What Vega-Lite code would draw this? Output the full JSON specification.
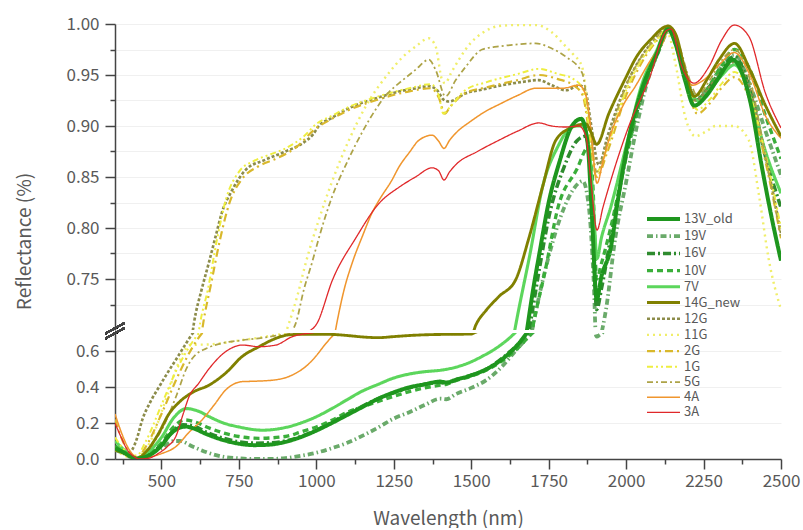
{
"$schema": "https://vega.github.io/schema/vega-lite/v6.json",
"padding": {"left": 15, "top": 15, "right": 5, "bottom": 0},
"background": "white",
"bounds": "flush",
"config": {"view": {"stroke": null}, "font": "Noto Sans CJK JP",
 "axis": {"labelFont": "Noto Sans CJK JP", "labelFontSize": 17, "labelColor": "#595959", "titleFont": "Noto Sans CJK JP", "titleFontSize": 19, "titleColor": "#595959", "titleFontWeight": "normal", "domainColor": "#444444", "tickColor": "#444444", "domainWidth": 1.5, "tickWidth": 1.5, "gridColor": "#f0f0f0", "gridWidth": 1, "labelOverlap": false}},
"data": {"values": [
{"s":"19V","w":350,"r":0.05},{"s":"19V","w":380,"r":0.03},{"s":"19V","w":400,"r":0.01},{"s":"19V","w":420,"r":0.0},{"s":"19V","w":450,"r":0.02},{"s":"19V","w":500,"r":0.06},{"s":"19V","w":540,"r":0.1},{"s":"19V","w":560,"r":0.1},{"s":"19V","w":600,"r":0.07},{"s":"19V","w":650,"r":0.035},{"s":"19V","w":700,"r":0.012},{"s":"19V","w":750,"r":0.004},{"s":"19V","w":800,"r":0.0},{"s":"19V","w":850,"r":0.0},{"s":"19V","w":900,"r":0.005},{"s":"19V","w":950,"r":0.018},{"s":"19V","w":1000,"r":0.035},{"s":"19V","w":1050,"r":0.06},{"s":"19V","w":1100,"r":0.09},{"s":"19V","w":1150,"r":0.13},{"s":"19V","w":1200,"r":0.175},{"s":"19V","w":1250,"r":0.225},{"s":"19V","w":1300,"r":0.26},{"s":"19V","w":1350,"r":0.3},{"s":"19V","w":1400,"r":0.335},{"s":"19V","w":1420,"r":0.332},{"s":"19V","w":1450,"r":0.36},{"s":"19V","w":1500,"r":0.395},{"s":"19V","w":1550,"r":0.44},{"s":"19V","w":1600,"r":0.515},{"s":"19V","w":1650,"r":0.615},{"s":"19V","w":1700,"r":0.705},{"s":"19V","w":1750,"r":0.772},{"s":"19V","w":1800,"r":0.82},{"s":"19V","w":1830,"r":0.838},{"s":"19V","w":1860,"r":0.846},{"s":"19V","w":1880,"r":0.82},{"s":"19V","w":1895,"r":0.75},{"s":"19V","w":1905,"r":0.68},{"s":"19V","w":1915,"r":0.69},{"s":"19V","w":1935,"r":0.72},{"s":"19V","w":1965,"r":0.79},{"s":"19V","w":2000,"r":0.845},{"s":"19V","w":2030,"r":0.893},{"s":"19V","w":2070,"r":0.945},{"s":"19V","w":2100,"r":0.97},{"s":"19V","w":2145,"r":0.995},{"s":"19V","w":2180,"r":0.965},{"s":"19V","w":2220,"r":0.93},{"s":"19V","w":2260,"r":0.935},{"s":"19V","w":2300,"r":0.955},{"s":"19V","w":2350,"r":0.97},{"s":"19V","w":2400,"r":0.94},{"s":"19V","w":2450,"r":0.895},{"s":"19V","w":2500,"r":0.852},
{"s":"16V","w":350,"r":0.07},{"s":"16V","w":380,"r":0.04},{"s":"16V","w":400,"r":0.015},{"s":"16V","w":420,"r":0.002},{"s":"16V","w":450,"r":0.015},{"s":"16V","w":500,"r":0.08},{"s":"16V","w":540,"r":0.16},{"s":"16V","w":570,"r":0.19},{"s":"16V","w":600,"r":0.185},{"s":"16V","w":650,"r":0.145},{"s":"16V","w":700,"r":0.115},{"s":"16V","w":750,"r":0.095},{"s":"16V","w":800,"r":0.088},{"s":"16V","w":850,"r":0.09},{"s":"16V","w":900,"r":0.1},{"s":"16V","w":950,"r":0.125},{"s":"16V","w":1000,"r":0.16},{"s":"16V","w":1100,"r":0.25},{"s":"16V","w":1200,"r":0.335},{"s":"16V","w":1300,"r":0.395},{"s":"16V","w":1400,"r":0.425},{"s":"16V","w":1420,"r":0.42},{"s":"16V","w":1450,"r":0.44},{"s":"16V","w":1500,"r":0.465},{"s":"16V","w":1550,"r":0.5},{"s":"16V","w":1600,"r":0.56},{"s":"16V","w":1650,"r":0.635},{"s":"16V","w":1690,"r":0.705},{"s":"16V","w":1720,"r":0.76},{"s":"16V","w":1750,"r":0.81},{"s":"16V","w":1800,"r":0.86},{"s":"16V","w":1840,"r":0.885},{"s":"16V","w":1870,"r":0.89},{"s":"16V","w":1890,"r":0.83},{"s":"16V","w":1905,"r":0.72},{"s":"16V","w":1920,"r":0.74},{"s":"16V","w":1950,"r":0.79},{"s":"16V","w":2000,"r":0.87},{"s":"16V","w":2050,"r":0.93},{"s":"16V","w":2100,"r":0.97},{"s":"16V","w":2138,"r":0.996},{"s":"16V","w":2170,"r":0.972},{"s":"16V","w":2200,"r":0.94},{"s":"16V","w":2225,"r":0.925},{"s":"16V","w":2260,"r":0.935},{"s":"16V","w":2300,"r":0.952},{"s":"16V","w":2350,"r":0.968},{"s":"16V","w":2400,"r":0.935},{"s":"16V","w":2450,"r":0.87},{"s":"16V","w":2500,"r":0.82},
{"s":"10V","w":350,"r":0.07},{"s":"10V","w":380,"r":0.04},{"s":"10V","w":400,"r":0.015},{"s":"10V","w":420,"r":0.002},{"s":"10V","w":450,"r":0.02},{"s":"10V","w":500,"r":0.09},{"s":"10V","w":540,"r":0.18},{"s":"10V","w":575,"r":0.217},{"s":"10V","w":610,"r":0.205},{"s":"10V","w":650,"r":0.175},{"s":"10V","w":700,"r":0.145},{"s":"10V","w":750,"r":0.125},{"s":"10V","w":815,"r":0.115},{"s":"10V","w":900,"r":0.125},{"s":"10V","w":950,"r":0.15},{"s":"10V","w":1000,"r":0.178},{"s":"10V","w":1050,"r":0.215},{"s":"10V","w":1100,"r":0.26},{"s":"10V","w":1150,"r":0.29},{"s":"10V","w":1200,"r":0.32},{"s":"10V","w":1250,"r":0.348},{"s":"10V","w":1300,"r":0.374},{"s":"10V","w":1350,"r":0.395},{"s":"10V","w":1400,"r":0.41},{"s":"10V","w":1420,"r":0.415},{"s":"10V","w":1450,"r":0.435},{"s":"10V","w":1500,"r":0.46},{"s":"10V","w":1550,"r":0.495},{"s":"10V","w":1600,"r":0.545},{"s":"10V","w":1650,"r":0.615},{"s":"10V","w":1700,"r":0.705},{"s":"10V","w":1740,"r":0.76},{"s":"10V","w":1780,"r":0.82},{"s":"10V","w":1840,"r":0.857},{"s":"10V","w":1880,"r":0.88},{"s":"10V","w":1893,"r":0.84},{"s":"10V","w":1905,"r":0.75},{"s":"10V","w":1920,"r":0.765},{"s":"10V","w":1950,"r":0.8},{"s":"10V","w":2000,"r":0.87},{"s":"10V","w":2050,"r":0.93},{"s":"10V","w":2100,"r":0.97},{"s":"10V","w":2135,"r":0.997},{"s":"10V","w":2170,"r":0.97},{"s":"10V","w":2200,"r":0.94},{"s":"10V","w":2230,"r":0.925},{"s":"10V","w":2270,"r":0.94},{"s":"10V","w":2310,"r":0.96},{"s":"10V","w":2350,"r":0.975},{"s":"10V","w":2400,"r":0.955},{"s":"10V","w":2450,"r":0.91},{"s":"10V","w":2500,"r":0.868},
{"s":"7V","w":350,"r":0.1},{"s":"7V","w":380,"r":0.05},{"s":"7V","w":400,"r":0.02},{"s":"7V","w":420,"r":0.003},{"s":"7V","w":450,"r":0.03},{"s":"7V","w":500,"r":0.12},{"s":"7V","w":540,"r":0.23},{"s":"7V","w":580,"r":0.28},{"s":"7V","w":620,"r":0.265},{"s":"7V","w":660,"r":0.23},{"s":"7V","w":700,"r":0.2},{"s":"7V","w":750,"r":0.178},{"s":"7V","w":825,"r":0.16},{"s":"7V","w":900,"r":0.175},{"s":"7V","w":950,"r":0.2},{"s":"7V","w":1000,"r":0.235},{"s":"7V","w":1050,"r":0.28},{"s":"7V","w":1100,"r":0.33},{"s":"7V","w":1140,"r":0.37},{"s":"7V","w":1200,"r":0.415},{"s":"7V","w":1250,"r":0.45},{"s":"7V","w":1300,"r":0.472},{"s":"7V","w":1350,"r":0.485},{"s":"7V","w":1405,"r":0.494},{"s":"7V","w":1450,"r":0.51},{"s":"7V","w":1500,"r":0.54},{"s":"7V","w":1535,"r":0.57},{"s":"7V","w":1580,"r":0.615},{"s":"7V","w":1622,"r":0.67},{"s":"7V","w":1650,"r":0.715},{"s":"7V","w":1690,"r":0.775},{"s":"7V","w":1730,"r":0.84},{"s":"7V","w":1780,"r":0.88},{"s":"7V","w":1830,"r":0.9},{"s":"7V","w":1860,"r":0.9},{"s":"7V","w":1880,"r":0.88},{"s":"7V","w":1895,"r":0.82},{"s":"7V","w":1906,"r":0.77},{"s":"7V","w":1920,"r":0.79},{"s":"7V","w":1950,"r":0.82},{"s":"7V","w":2000,"r":0.88},{"s":"7V","w":2050,"r":0.94},{"s":"7V","w":2100,"r":0.975},{"s":"7V","w":2135,"r":0.997},{"s":"7V","w":2170,"r":0.975},{"s":"7V","w":2200,"r":0.94},{"s":"7V","w":2230,"r":0.925},{"s":"7V","w":2270,"r":0.935},{"s":"7V","w":2310,"r":0.95},{"s":"7V","w":2350,"r":0.96},{"s":"7V","w":2400,"r":0.93},{"s":"7V","w":2450,"r":0.875},{"s":"7V","w":2500,"r":0.834},
{"s":"12G","w":350,"r":0.06},{"s":"12G","w":370,"r":0.04},{"s":"12G","w":390,"r":0.03},{"s":"12G","w":405,"r":0.05},{"s":"12G","w":420,"r":0.11},{"s":"12G","w":438,"r":0.217},{"s":"12G","w":465,"r":0.32},{"s":"12G","w":492,"r":0.4},{"s":"12G","w":520,"r":0.48},{"s":"12G","w":546,"r":0.55},{"s":"12G","w":575,"r":0.63},{"s":"12G","w":605,"r":0.707},{"s":"12G","w":630,"r":0.74},{"s":"12G","w":653,"r":0.766},{"s":"12G","w":675,"r":0.792},{"s":"12G","w":695,"r":0.815},{"s":"12G","w":728,"r":0.837},{"s":"12G","w":772,"r":0.857},{"s":"12G","w":836,"r":0.867},{"s":"12G","w":900,"r":0.875},{"s":"12G","w":960,"r":0.884},{"s":"12G","w":990,"r":0.892},{"s":"12G","w":1008,"r":0.9},{"s":"12G","w":1050,"r":0.908},{"s":"12G","w":1095,"r":0.916},{"s":"12G","w":1150,"r":0.923},{"s":"12G","w":1212,"r":0.929},{"s":"12G","w":1270,"r":0.934},{"s":"12G","w":1321,"r":0.937},{"s":"12G","w":1363,"r":0.939},{"s":"12G","w":1390,"r":0.935},{"s":"12G","w":1410,"r":0.926},{"s":"12G","w":1428,"r":0.924},{"s":"12G","w":1482,"r":0.932},{"s":"12G","w":1540,"r":0.936},{"s":"12G","w":1600,"r":0.94},{"s":"12G","w":1660,"r":0.943},{"s":"12G","w":1718,"r":0.945},{"s":"12G","w":1760,"r":0.94},{"s":"12G","w":1805,"r":0.935},{"s":"12G","w":1850,"r":0.94},{"s":"12G","w":1870,"r":0.933},{"s":"12G","w":1885,"r":0.905},{"s":"12G","w":1912,"r":0.862},{"s":"12G","w":1940,"r":0.89},{"s":"12G","w":2000,"r":0.94},{"s":"12G","w":2050,"r":0.968},{"s":"12G","w":2100,"r":0.988},{"s":"12G","w":2135,"r":0.998},{"s":"12G","w":2160,"r":0.985},{"s":"12G","w":2190,"r":0.95},{"s":"12G","w":2225,"r":0.925},{"s":"12G","w":2260,"r":0.935},{"s":"12G","w":2300,"r":0.95},{"s":"12G","w":2350,"r":0.963},{"s":"12G","w":2400,"r":0.935},{"s":"12G","w":2450,"r":0.87},{"s":"12G","w":2500,"r":0.795},
{"s":"11G","w":350,"r":0.05},{"s":"11G","w":380,"r":0.02},{"s":"11G","w":410,"r":0.0},{"s":"11G","w":438,"r":0.03},{"s":"11G","w":465,"r":0.1},{"s":"11G","w":492,"r":0.22},{"s":"11G","w":520,"r":0.36},{"s":"11G","w":546,"r":0.494},{"s":"11G","w":570,"r":0.59},{"s":"11G","w":590,"r":0.633},{"s":"11G","w":620,"r":0.635},{"s":"11G","w":653,"r":0.636},{"s":"11G","w":700,"r":0.645},{"s":"11G","w":761,"r":0.661},{"s":"11G","w":820,"r":0.675},{"s":"11G","w":869,"r":0.689},{"s":"11G","w":900,"r":0.697},{"s":"11G","w":912,"r":0.707},{"s":"11G","w":940,"r":0.735},{"s":"11G","w":966,"r":0.766},{"s":"11G","w":1008,"r":0.808},{"s":"11G","w":1050,"r":0.845},{"s":"11G","w":1105,"r":0.886},{"s":"11G","w":1159,"r":0.919},{"s":"11G","w":1234,"r":0.952},{"s":"11G","w":1280,"r":0.968},{"s":"11G","w":1321,"r":0.978},{"s":"11G","w":1363,"r":0.986},{"s":"11G","w":1385,"r":0.978},{"s":"11G","w":1406,"r":0.945},{"s":"11G","w":1416,"r":0.942},{"s":"11G","w":1435,"r":0.952},{"s":"11G","w":1460,"r":0.965},{"s":"11G","w":1500,"r":0.982},{"s":"11G","w":1535,"r":0.991},{"s":"11G","w":1589,"r":0.998},{"s":"11G","w":1650,"r":0.999},{"s":"11G","w":1708,"r":0.999},{"s":"11G","w":1760,"r":0.992},{"s":"11G","w":1805,"r":0.978},{"s":"11G","w":1830,"r":0.97},{"s":"11G","w":1858,"r":0.958},{"s":"11G","w":1875,"r":0.92},{"s":"11G","w":1890,"r":0.875},{"s":"11G","w":1905,"r":0.85},{"s":"11G","w":1925,"r":0.865},{"s":"11G","w":1960,"r":0.9},{"s":"11G","w":2000,"r":0.935},{"s":"11G","w":2050,"r":0.965},{"s":"11G","w":2100,"r":0.985},{"s":"11G","w":2135,"r":0.99},{"s":"11G","w":2160,"r":0.96},{"s":"11G","w":2190,"r":0.91},{"s":"11G","w":2224,"r":0.89},{"s":"11G","w":2260,"r":0.895},{"s":"11G","w":2289,"r":0.9},{"s":"11G","w":2349,"r":0.9},{"s":"11G","w":2396,"r":0.886},{"s":"11G","w":2430,"r":0.83},{"s":"11G","w":2460,"r":0.77},{"s":"11G","w":2500,"r":0.72},
{"s":"2G","w":350,"r":0.22},{"s":"2G","w":375,"r":0.1},{"s":"2G","w":400,"r":0.03},{"s":"2G","w":420,"r":0.005},{"s":"2G","w":450,"r":0.07},{"s":"2G","w":500,"r":0.25},{"s":"2G","w":550,"r":0.45},{"s":"2G","w":600,"r":0.62},{"s":"2G","w":635,"r":0.707},{"s":"2G","w":660,"r":0.745},{"s":"2G","w":690,"r":0.79},{"s":"2G","w":720,"r":0.825},{"s":"2G","w":760,"r":0.848},{"s":"2G","w":810,"r":0.86},{"s":"2G","w":870,"r":0.868},{"s":"2G","w":930,"r":0.878},{"s":"2G","w":1000,"r":0.898},{"s":"2G","w":1050,"r":0.907},{"s":"2G","w":1100,"r":0.915},{"s":"2G","w":1200,"r":0.926},{"s":"2G","w":1300,"r":0.934},{"s":"2G","w":1370,"r":0.937},{"s":"2G","w":1395,"r":0.928},{"s":"2G","w":1415,"r":0.912},{"s":"2G","w":1430,"r":0.918},{"s":"2G","w":1480,"r":0.932},{"s":"2G","w":1550,"r":0.938},{"s":"2G","w":1650,"r":0.945},{"s":"2G","w":1718,"r":0.95},{"s":"2G","w":1780,"r":0.946},{"s":"2G","w":1830,"r":0.94},{"s":"2G","w":1860,"r":0.93},{"s":"2G","w":1880,"r":0.895},{"s":"2G","w":1905,"r":0.85},{"s":"2G","w":1940,"r":0.875},{"s":"2G","w":2000,"r":0.93},{"s":"2G","w":2050,"r":0.962},{"s":"2G","w":2100,"r":0.984},{"s":"2G","w":2140,"r":0.996},{"s":"2G","w":2170,"r":0.972},{"s":"2G","w":2200,"r":0.935},{"s":"2G","w":2230,"r":0.912},{"s":"2G","w":2270,"r":0.922},{"s":"2G","w":2310,"r":0.938},{"s":"2G","w":2350,"r":0.948},{"s":"2G","w":2400,"r":0.925},{"s":"2G","w":2450,"r":0.865},{"s":"2G","w":2500,"r":0.79},
{"s":"1G","w":350,"r":0.12},{"s":"1G","w":375,"r":0.06},{"s":"1G","w":400,"r":0.02},{"s":"1G","w":420,"r":0.02},{"s":"1G","w":450,"r":0.1},{"s":"1G","w":500,"r":0.3},{"s":"1G","w":550,"r":0.5},{"s":"1G","w":600,"r":0.65},{"s":"1G","w":625,"r":0.707},{"s":"1G","w":650,"r":0.74},{"s":"1G","w":680,"r":0.79},{"s":"1G","w":710,"r":0.83},{"s":"1G","w":750,"r":0.855},{"s":"1G","w":800,"r":0.866},{"s":"1G","w":850,"r":0.872},{"s":"1G","w":900,"r":0.878},{"s":"1G","w":960,"r":0.89},{"s":"1G","w":1000,"r":0.902},{"s":"1G","w":1050,"r":0.91},{"s":"1G","w":1100,"r":0.918},{"s":"1G","w":1200,"r":0.929},{"s":"1G","w":1300,"r":0.937},{"s":"1G","w":1370,"r":0.941},{"s":"1G","w":1395,"r":0.93},{"s":"1G","w":1410,"r":0.912},{"s":"1G","w":1430,"r":0.918},{"s":"1G","w":1480,"r":0.935},{"s":"1G","w":1550,"r":0.943},{"s":"1G","w":1650,"r":0.951},{"s":"1G","w":1718,"r":0.956},{"s":"1G","w":1780,"r":0.951},{"s":"1G","w":1830,"r":0.946},{"s":"1G","w":1860,"r":0.936},{"s":"1G","w":1880,"r":0.9},{"s":"1G","w":1905,"r":0.855},{"s":"1G","w":1940,"r":0.88},{"s":"1G","w":2000,"r":0.935},{"s":"1G","w":2050,"r":0.965},{"s":"1G","w":2100,"r":0.985},{"s":"1G","w":2140,"r":0.997},{"s":"1G","w":2170,"r":0.975},{"s":"1G","w":2200,"r":0.94},{"s":"1G","w":2230,"r":0.916},{"s":"1G","w":2270,"r":0.926},{"s":"1G","w":2310,"r":0.942},{"s":"1G","w":2350,"r":0.953},{"s":"1G","w":2400,"r":0.93},{"s":"1G","w":2450,"r":0.872},{"s":"1G","w":2500,"r":0.8},
{"s":"5G","w":350,"r":0.06},{"s":"5G","w":380,"r":0.03},{"s":"5G","w":400,"r":0.01},{"s":"5G","w":420,"r":0.0},{"s":"5G","w":450,"r":0.04},{"s":"5G","w":500,"r":0.16},{"s":"5G","w":550,"r":0.36},{"s":"5G","w":580,"r":0.5},{"s":"5G","w":600,"r":0.56},{"s":"5G","w":653,"r":0.62},{"s":"5G","w":700,"r":0.645},{"s":"5G","w":761,"r":0.66},{"s":"5G","w":820,"r":0.672},{"s":"5G","w":869,"r":0.685},{"s":"5G","w":920,"r":0.698},{"s":"5G","w":934,"r":0.707},{"s":"5G","w":960,"r":0.74},{"s":"5G","w":986,"r":0.766},{"s":"5G","w":1008,"r":0.79},{"s":"5G","w":1050,"r":0.83},{"s":"5G","w":1100,"r":0.865},{"s":"5G","w":1150,"r":0.895},{"s":"5G","w":1191,"r":0.916},{"s":"5G","w":1230,"r":0.932},{"s":"5G","w":1267,"r":0.942},{"s":"5G","w":1320,"r":0.955},{"s":"5G","w":1363,"r":0.965},{"s":"5G","w":1385,"r":0.955},{"s":"5G","w":1417,"r":0.929},{"s":"5G","w":1450,"r":0.945},{"s":"5G","w":1482,"r":0.958},{"s":"5G","w":1535,"r":0.975},{"s":"5G","w":1589,"r":0.978},{"s":"5G","w":1650,"r":0.98},{"s":"5G","w":1708,"r":0.981},{"s":"5G","w":1760,"r":0.976},{"s":"5G","w":1805,"r":0.968},{"s":"5G","w":1858,"r":0.952},{"s":"5G","w":1880,"r":0.91},{"s":"5G","w":1905,"r":0.855},{"s":"5G","w":1940,"r":0.885},{"s":"5G","w":2000,"r":0.94},{"s":"5G","w":2050,"r":0.968},{"s":"5G","w":2100,"r":0.988},{"s":"5G","w":2135,"r":0.998},{"s":"5G","w":2170,"r":0.98},{"s":"5G","w":2200,"r":0.95},{"s":"5G","w":2230,"r":0.93},{"s":"5G","w":2270,"r":0.945},{"s":"5G","w":2310,"r":0.965},{"s":"5G","w":2350,"r":0.975},{"s":"5G","w":2400,"r":0.945},{"s":"5G","w":2450,"r":0.87},{"s":"5G","w":2500,"r":0.79},
{"s":"4A","w":350,"r":0.25},{"s":"4A","w":370,"r":0.15},{"s":"4A","w":390,"r":0.07},{"s":"4A","w":410,"r":0.02},{"s":"4A","w":430,"r":0.003},{"s":"4A","w":460,"r":0.01},{"s":"4A","w":500,"r":0.03},{"s":"4A","w":546,"r":0.068},{"s":"4A","w":590,"r":0.15},{"s":"4A","w":631,"r":0.217},{"s":"4A","w":670,"r":0.3},{"s":"4A","w":707,"r":0.383},{"s":"4A","w":761,"r":0.43},{"s":"4A","w":800,"r":0.432},{"s":"4A","w":869,"r":0.44},{"s":"4A","w":933,"r":0.476},{"s":"4A","w":970,"r":0.52},{"s":"4A","w":998,"r":0.57},{"s":"4A","w":1030,"r":0.64},{"s":"4A","w":1062,"r":0.7},{"s":"4A","w":1090,"r":0.74},{"s":"4A","w":1116,"r":0.766},{"s":"4A","w":1150,"r":0.793},{"s":"4A","w":1180,"r":0.815},{"s":"4A","w":1202,"r":0.827},{"s":"4A","w":1244,"r":0.847},{"s":"4A","w":1267,"r":0.86},{"s":"4A","w":1300,"r":0.874},{"s":"4A","w":1331,"r":0.886},{"s":"4A","w":1374,"r":0.891},{"s":"4A","w":1395,"r":0.885},{"s":"4A","w":1412,"r":0.878},{"s":"4A","w":1430,"r":0.886},{"s":"4A","w":1450,"r":0.893},{"s":"4A","w":1500,"r":0.905},{"s":"4A","w":1550,"r":0.915},{"s":"4A","w":1589,"r":0.921},{"s":"4A","w":1650,"r":0.93},{"s":"4A","w":1708,"r":0.937},{"s":"4A","w":1794,"r":0.937},{"s":"4A","w":1848,"r":0.94},{"s":"4A","w":1870,"r":0.93},{"s":"4A","w":1885,"r":0.9},{"s":"4A","w":1906,"r":0.844},{"s":"4A","w":1925,"r":0.865},{"s":"4A","w":1944,"r":0.886},{"s":"4A","w":1990,"r":0.92},{"s":"4A","w":2030,"r":0.939},{"s":"4A","w":2080,"r":0.965},{"s":"4A","w":2116,"r":0.98},{"s":"4A","w":2140,"r":0.995},{"s":"4A","w":2170,"r":0.975},{"s":"4A","w":2195,"r":0.95},{"s":"4A","w":2213,"r":0.94},{"s":"4A","w":2250,"r":0.945},{"s":"4A","w":2300,"r":0.96},{"s":"4A","w":2349,"r":0.972},{"s":"4A","w":2400,"r":0.95},{"s":"4A","w":2450,"r":0.91},{"s":"4A","w":2500,"r":0.888},
{"s":"14G_new","w":350,"r":0.05},{"s":"14G_new","w":380,"r":0.03},{"s":"14G_new","w":400,"r":0.012},{"s":"14G_new","w":420,"r":0.003},{"s":"14G_new","w":450,"r":0.04},{"s":"14G_new","w":490,"r":0.14},{"s":"14G_new","w":524,"r":0.25},{"s":"14G_new","w":560,"r":0.32},{"s":"14G_new","w":600,"r":0.37},{"s":"14G_new","w":653,"r":0.41},{"s":"14G_new","w":707,"r":0.477},{"s":"14G_new","w":761,"r":0.57},{"s":"14G_new","w":815,"r":0.624},{"s":"14G_new","w":869,"r":0.67},{"s":"14G_new","w":912,"r":0.69},{"s":"14G_new","w":960,"r":0.693},{"s":"14G_new","w":1000,"r":0.693},{"s":"14G_new","w":1050,"r":0.692},{"s":"14G_new","w":1100,"r":0.686},{"s":"14G_new","w":1150,"r":0.678},{"s":"14G_new","w":1200,"r":0.674},{"s":"14G_new","w":1250,"r":0.68},{"s":"14G_new","w":1300,"r":0.686},{"s":"14G_new","w":1350,"r":0.69},{"s":"14G_new","w":1400,"r":0.692},{"s":"14G_new","w":1450,"r":0.693},{"s":"14G_new","w":1500,"r":0.694},{"s":"14G_new","w":1515,"r":0.705},{"s":"14G_new","w":1550,"r":0.72},{"s":"14G_new","w":1590,"r":0.733},{"s":"14G_new","w":1643,"r":0.749},{"s":"14G_new","w":1686,"r":0.79},{"s":"14G_new","w":1730,"r":0.84},{"s":"14G_new","w":1773,"r":0.886},{"s":"14G_new","w":1820,"r":0.898},{"s":"14G_new","w":1870,"r":0.902},{"s":"14G_new","w":1885,"r":0.895},{"s":"14G_new","w":1905,"r":0.882},{"s":"14G_new","w":1944,"r":0.912},{"s":"14G_new","w":2000,"r":0.948},{"s":"14G_new","w":2030,"r":0.966},{"s":"14G_new","w":2080,"r":0.985},{"s":"14G_new","w":2135,"r":0.998},{"s":"14G_new","w":2160,"r":0.99},{"s":"14G_new","w":2190,"r":0.955},{"s":"14G_new","w":2220,"r":0.929},{"s":"14G_new","w":2260,"r":0.945},{"s":"14G_new","w":2300,"r":0.965},{"s":"14G_new","w":2350,"r":0.981},{"s":"14G_new","w":2400,"r":0.955},{"s":"14G_new","w":2450,"r":0.92},{"s":"14G_new","w":2500,"r":0.89},
{"s":"13V_old","w":350,"r":0.06},{"s":"13V_old","w":380,"r":0.035},{"s":"13V_old","w":400,"r":0.015},{"s":"13V_old","w":420,"r":0.003},{"s":"13V_old","w":440,"r":0.008},{"s":"13V_old","w":470,"r":0.03},{"s":"13V_old","w":500,"r":0.075},{"s":"13V_old","w":530,"r":0.14},{"s":"13V_old","w":560,"r":0.175},{"s":"13V_old","w":580,"r":0.18},{"s":"13V_old","w":600,"r":0.172},{"s":"13V_old","w":650,"r":0.135},{"s":"13V_old","w":700,"r":0.105},{"s":"13V_old","w":750,"r":0.085},{"s":"13V_old","w":800,"r":0.077},{"s":"13V_old","w":850,"r":0.08},{"s":"13V_old","w":900,"r":0.095},{"s":"13V_old","w":950,"r":0.122},{"s":"13V_old","w":1000,"r":0.158},{"s":"13V_old","w":1050,"r":0.2},{"s":"13V_old","w":1100,"r":0.245},{"s":"13V_old","w":1150,"r":0.29},{"s":"13V_old","w":1200,"r":0.335},{"s":"13V_old","w":1250,"r":0.37},{"s":"13V_old","w":1300,"r":0.398},{"s":"13V_old","w":1350,"r":0.415},{"s":"13V_old","w":1400,"r":0.43},{"s":"13V_old","w":1420,"r":0.425},{"s":"13V_old","w":1450,"r":0.44},{"s":"13V_old","w":1500,"r":0.465},{"s":"13V_old","w":1550,"r":0.5},{"s":"13V_old","w":1600,"r":0.555},{"s":"13V_old","w":1650,"r":0.635},{"s":"13V_old","w":1680,"r":0.7},{"s":"13V_old","w":1700,"r":0.74},{"s":"13V_old","w":1720,"r":0.775},{"s":"13V_old","w":1750,"r":0.825},{"s":"13V_old","w":1785,"r":0.865},{"s":"13V_old","w":1825,"r":0.9},{"s":"13V_old","w":1855,"r":0.907},{"s":"13V_old","w":1875,"r":0.885},{"s":"13V_old","w":1890,"r":0.81},{"s":"13V_old","w":1905,"r":0.73},{"s":"13V_old","w":1920,"r":0.752},{"s":"13V_old","w":1950,"r":0.78},{"s":"13V_old","w":1975,"r":0.83},{"s":"13V_old","w":2000,"r":0.875},{"s":"13V_old","w":2050,"r":0.935},{"s":"13V_old","w":2100,"r":0.972},{"s":"13V_old","w":2135,"r":0.995},{"s":"13V_old","w":2160,"r":0.98},{"s":"13V_old","w":2190,"r":0.945},{"s":"13V_old","w":2220,"r":0.92},{"s":"13V_old","w":2260,"r":0.93},{"s":"13V_old","w":2300,"r":0.948},{"s":"13V_old","w":2345,"r":0.965},{"s":"13V_old","w":2370,"r":0.955},{"s":"13V_old","w":2400,"r":0.925},{"s":"13V_old","w":2440,"r":0.857},{"s":"13V_old","w":2470,"r":0.81},{"s":"13V_old","w":2500,"r":0.768},
{"s":"3A","w":350,"r":0.2},{"s":"3A","w":370,"r":0.12},{"s":"3A","w":390,"r":0.05},{"s":"3A","w":410,"r":0.015},{"s":"3A","w":430,"r":0.0},{"s":"3A","w":460,"r":0.005},{"s":"3A","w":492,"r":0.033},{"s":"3A","w":520,"r":0.07},{"s":"3A","w":546,"r":0.124},{"s":"3A","w":570,"r":0.25},{"s":"3A","w":589,"r":0.346},{"s":"3A","w":620,"r":0.42},{"s":"3A","w":653,"r":0.5},{"s":"3A","w":707,"r":0.596},{"s":"3A","w":761,"r":0.633},{"s":"3A","w":815,"r":0.624},{"s":"3A","w":869,"r":0.633},{"s":"3A","w":923,"r":0.68},{"s":"3A","w":960,"r":0.695},{"s":"3A","w":1003,"r":0.707},{"s":"3A","w":1052,"r":0.749},{"s":"3A","w":1127,"r":0.79},{"s":"3A","w":1202,"r":0.824},{"s":"3A","w":1267,"r":0.84},{"s":"3A","w":1320,"r":0.85},{"s":"3A","w":1374,"r":0.859},{"s":"3A","w":1395,"r":0.856},{"s":"3A","w":1412,"r":0.847},{"s":"3A","w":1430,"r":0.855},{"s":"3A","w":1450,"r":0.862},{"s":"3A","w":1520,"r":0.875},{"s":"3A","w":1589,"r":0.886},{"s":"3A","w":1650,"r":0.895},{"s":"3A","w":1718,"r":0.903},{"s":"3A","w":1760,"r":0.9},{"s":"3A","w":1805,"r":0.899},{"s":"3A","w":1848,"r":0.9},{"s":"3A","w":1870,"r":0.89},{"s":"3A","w":1885,"r":0.85},{"s":"3A","w":1906,"r":0.798},{"s":"3A","w":1925,"r":0.82},{"s":"3A","w":1944,"r":0.84},{"s":"3A","w":2009,"r":0.9},{"s":"3A","w":2073,"r":0.945},{"s":"3A","w":2132,"r":0.994},{"s":"3A","w":2145,"r":0.995},{"s":"3A","w":2180,"r":0.958},{"s":"3A","w":2219,"r":0.942},{"s":"3A","w":2267,"r":0.958},{"s":"3A","w":2310,"r":0.985},{"s":"3A","w":2349,"r":0.999},{"s":"3A","w":2396,"r":0.988},{"s":"3A","w":2450,"r":0.932},{"s":"3A","w":2500,"r":0.898}
]},
"spacing": 3,
"vconcat": [
{"width": 666, "height": 306,
 "mark": {"type": "line", "clip": true, "interpolate": "monotone"},
 "encoding": {
  "x": {"field": "w", "type": "quantitative", "scale": {"domain": [350, 2500], "nice": false}, "axis": null},
  "y": {"field": "r", "type": "quantitative", "scale": {"domain": [0.7, 1.0], "nice": false, "zero": false},
   "axis": {"title": "Reflectance (%)", "titleX": -91, "titleY": 217, "titleBaseline": "middle", "titleAlign": "center", "titleAngle": -90,
    "values": [0.725,0.75,0.775,0.8,0.825,0.85,0.875,0.9,0.925,0.95,0.975,1.0],
    "labelExpr": "round(datum.value*1000) % 50 === 0 ? format(datum.value, '.2f') : ''",
    "tickSize": {"condition": {"test": "round(datum.value*1000) % 50 === 0", "value": 10}, "value": 5},
    "labelPadding": 6, "grid": true}},
  "color": {"field": "s", "type": "nominal", "title": null,
   "scale": {"domain": ["13V_old","19V","16V","10V","7V","14G_new","12G","11G","2G","1G","5G","4A","3A"],
    "range": ["#1e961e","#6aaa6a","#2e8b2e","#3aae3a","#5cd65c","#808000","#8c8c4a","#f0ee6a","#d9b82b","#eeee40","#ada347","#f0962e","#e0282a"]},
   "legend": {"orient": "none", "legendX": 540.5, "legendY": 187, "symbolType": "M-2.75,0H2.75", "symbolSize": 144, "labelOffset": 12.5, "labelFontSize": 13, "labelColor": "#595959", "labelFont": "Noto Sans CJK JP", "rowPadding": 1.2, "symbolFillColor": "transparent"}},
  "strokeDash": {"field": "s", "type": "nominal", "title": null,
   "scale": {"domain": ["13V_old","19V","16V","10V","7V","14G_new","12G","11G","2G","1G","5G","4A","3A"],
    "range": [[1,0],[6,3,1.5,3],[8,3,2,3],[6,4],[1,0],[1,0],[3,2],[2,4],[8,4,2,4],[6,3,2,3,2,3],[6,3,2,3],[1,0],[1,0]]}},
  "strokeWidth": {"field": "s", "type": "nominal", "title": null,
   "scale": {"domain": ["13V_old","19V","16V","10V","7V","14G_new","12G","11G","2G","1G","5G","4A","3A"],
    "range": [4,1.3,1.5,1.8,1.6,4,1.5,1.8,1.8,1.8,1.8,1.8,1.8]}}
 }},
{"width": 666, "height": 126,
 "resolve": {"axis": {"x": "independent"}},
 "layer": [
 {"mark": {"type": "line", "clip": true, "interpolate": "monotone"},
  "encoding": {
  "x": {"field": "w", "type": "quantitative", "scale": {"domain": [350, 2500], "nice": false},
   "axis": {"orient": "bottom", "title": "Wavelength (nm)", "titleY": 59, "titleBaseline": "middle",
    "values": [500,750,1000,1250,1500,1750,2000,2250,2500], "format": "d",
    "tickSize": 10, "labelPadding": 4, "grid": false, "labelFlush": false, "labelOverlap": false}},
  "y": {"field": "r", "type": "quantitative", "scale": {"domain": [0, 0.7], "nice": false},
   "axis": {"title": null, "values": [0,0.1,0.2,0.3,0.4,0.5,0.6],
    "labelExpr": "round(datum.value*10) % 2 === 0 ? format(datum.value, '.1f') : ''",
    "tickSize": {"condition": {"test": "round(datum.value*10) % 2 === 0", "value": 10}, "value": 5},
    "labelPadding": 6, "grid": true}},
  "color": {"field": "s", "type": "nominal", "title": null},
  "strokeDash": {"field": "s", "type": "nominal", "title": null},
  "strokeWidth": {"field": "s", "type": "nominal", "title": null}
 }},
 {"mark": {"type": "point", "shape": "M-0.95,0.05L0.95,-1.0M-0.95,0.55L0.95,-0.5", "size": 400, "filled": false, "stroke": "#444444", "strokeWidth": 1.5, "opacity": 1, "clip": false},
  "encoding": {
   "x": {"datum": 350, "type": "quantitative",
    "axis": {"orient": "bottom", "title": null, "values": [375,625,875,1125,1375,1625,1875,2125,2375], "labels": false, "domain": false, "tickSize": 5, "grid": false}},
   "y": {"datum": 0.7, "type": "quantitative"}}}
 ]}
]
}
